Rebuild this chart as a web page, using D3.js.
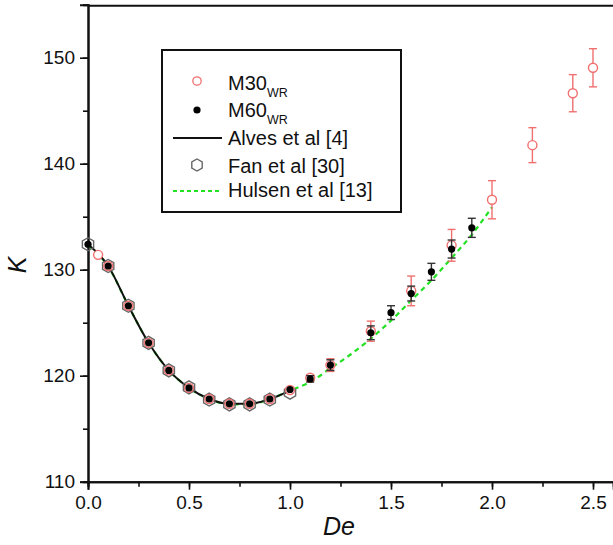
<!DOCTYPE html>
<html><head><meta charset="utf-8">
<script src="https://cdn.jsdelivr.net/npm/d3@7"></script>
<style>body{margin:0;background:#fff}svg{display:block}text{font-family:"Liberation Sans",Arial,sans-serif;fill:#111}</style>
</head><body>
<svg id="c" width="613" height="545"></svg>
<script>
// ---- data ----
const deLine = [0,0.1,0.2,0.3,0.4,0.5,0.6,0.7,0.8,0.9,1.0];
const kAlves = [132.4,130.35,126.6,123.1,120.5,118.85,117.8,117.35,117.35,117.8,118.6];
const kFan = [132.4,130.35,126.6,123.1,120.5,118.9,117.75,117.3,117.3,117.75,118.4];
const deHulsen = [0,0.1,0.2,0.3,0.4,0.5,0.6,0.7,0.8,0.9,1.0,1.1,1.2,1.3,1.4,1.5,1.6,1.7,1.8,1.9,2.0];
const kHulsen = [132.3,130.3,126.6,123.1,120.5,118.85,117.8,117.3,117.3,117.8,118.6,119.4,120.7,122.0,123.5,125.2,127.1,129.0,131.1,133.3,135.9];
const deM30 = [0.05,0.1,0.2,0.3,0.4,0.5,0.6,0.7,0.8,0.9,1.0,1.1,1.2,1.4,1.6,1.8,2.0,2.2,2.4,2.5];
const kM30 = [131.4,130.35,126.6,123.1,120.5,118.85,117.8,117.35,117.35,117.8,118.65,119.8,121.0,124.2,128.0,132.3,136.6,141.75,146.65,149.05];
const errM30 = [0,0,0,0,0,0,0,0,0,0,0,0.3,0.6,0.95,1.4,1.5,1.8,1.65,1.75,1.8];
const deM60 = [0,0.1,0.2,0.3,0.4,0.5,0.6,0.7,0.8,0.9,1.0,1.1,1.2,1.4,1.5,1.6,1.7,1.8,1.9];
const kM60 = [132.4,130.35,126.6,123.1,120.5,118.85,117.8,117.35,117.35,117.8,118.7,119.7,121.0,124.05,125.95,127.75,129.8,131.95,133.95];
const errM60 = [0,0,0,0,0,0,0,0,0,0,0,0.3,0.5,0.65,0.65,0.7,0.8,0.85,0.9];
const xTicks = [0,0.5,1.0,1.5,2.0,2.5];
const yTicks = [110,120,130,140,150];
const legendLabels = ["M30","M60","Alves et al [4]","Fan et al [30]","Hulsen et al [13]"];

const RED = "#f07070", GREEN = "#22e022", HEXC = "#666";
const svg = d3.select("#c");
const x = d3.scaleLinear().domain([0,2.6]).range([88,613.2]);
const y = d3.scaleLinear().domain([110,155]).range([481.7,4.7]);

// axes
const xAxis = svg.append("g").attr("transform","translate(0,481.7)");
xAxis.call(d3.axisBottom(x).tickValues(d3.range(0,2.6,0.25)).tickSize(5).tickFormat(""));
const xMaj = svg.append("g").attr("transform","translate(0,481.7)")
  .call(d3.axisBottom(x).tickValues(xTicks).tickSize(8).tickPadding(6).tickFormat(d3.format(".1f")));
const yAxis = svg.append("g").attr("transform","translate(88,0)");
yAxis.call(d3.axisLeft(y).tickValues(d3.range(110,155.1,5)).tickSize(5).tickFormat(""));
const yMaj = svg.append("g").attr("transform","translate(88,0)")
  .call(d3.axisLeft(y).tickValues(yTicks).tickSize(8).tickPadding(5).tickFormat(d3.format("d")));
[xAxis,xMaj,yAxis,yMaj].forEach(g=>{
  g.select(".domain").attr("stroke","#111").attr("stroke-width",2);
  g.selectAll(".tick line").attr("stroke","#111").attr("stroke-width",1.6);
  g.selectAll(".tick text").attr("font-size",19).attr("fill","#111")
   .style("font-family","'Liberation Sans',Arial,sans-serif");
});
// top frame
svg.append("line").attr("x1",x(0)).attr("x2",x(2.6)).attr("y1",y(155)+1).attr("y2",y(155)+1)
  .attr("stroke","#111").attr("stroke-width",2);

// axis labels
svg.append("text").attr("transform","translate(26,265) rotate(-90)").attr("text-anchor","middle")
  .attr("font-size",25).attr("font-style","italic").text("K");
svg.append("text").attr("x",339).attr("y",535).attr("text-anchor","middle")
  .attr("font-size",25).attr("font-style","italic").text("De");

const plot = svg.append("g");
// Hulsen dashed line
plot.append("path").datum(deHulsen.map((d,i)=>[d,kHulsen[i]]))
  .attr("fill","none").attr("stroke",GREEN).attr("stroke-width",2.2).attr("stroke-dasharray","5,4")
  .attr("d",d3.line().x(d=>x(d[0])).y(d=>y(d[1])).curve(d3.curveMonotoneX));
// Alves line
plot.append("path").datum(deLine.map((d,i)=>[d,kAlves[i]]))
  .attr("fill","none").attr("stroke","#111").attr("stroke-width",2)
  .attr("d",d3.line().x(d=>x(d[0])).y(d=>y(d[1])).curve(d3.curveMonotoneX));

function hexPath(cx,cy,r){
  const pts = d3.range(6).map(i=>{const a=Math.PI/180*(60*i-90);return [cx+r*Math.cos(a),cy+r*Math.sin(a)];});
  return "M"+pts.map(p=>p.join(",")).join("L")+"Z";
}
// Fan hexagons
plot.selectAll(".hex").data(deLine.map((d,i)=>[d,kFan[i]])).join("path")
  .attr("d",d=>hexPath(x(d[0]),y(d[1]),6.5)).attr("fill","none").attr("stroke",HEXC).attr("stroke-width",1.4);

function errBars(de,k,err,color){
  const data = de.map((d,i)=>[d,k[i],err[i]]).filter(d=>d[2]>0);
  const g = plot.append("g").attr("stroke",color).attr("stroke-width",1.4);
  g.selectAll(".v").data(data).join("line")
    .attr("x1",d=>x(d[0])).attr("x2",d=>x(d[0])).attr("y1",d=>y(d[1]-d[2])).attr("y2",d=>y(d[1]+d[2]));
  g.selectAll(".t").data(data).join("line")
    .attr("x1",d=>x(d[0])-4).attr("x2",d=>x(d[0])+4).attr("y1",d=>y(d[1]+d[2])).attr("y2",d=>y(d[1]+d[2]));
  g.selectAll(".b").data(data).join("line")
    .attr("x1",d=>x(d[0])-4).attr("x2",d=>x(d[0])+4).attr("y1",d=>y(d[1]-d[2])).attr("y2",d=>y(d[1]-d[2]));
}
// M30
errBars(deM30,kM30,errM30,RED);
plot.selectAll(".m30").data(deM30.map((d,i)=>[d,kM30[i]])).join("circle")
  .attr("cx",d=>x(d[0])).attr("cy",d=>y(d[1])).attr("r",4.5)
  .attr("fill","#fff").attr("stroke",RED).attr("stroke-width",1.4);
// M60
errBars(deM60,kM60,errM60,"#333");
plot.selectAll(".m60").data(deM60.map((d,i)=>[d,kM60[i]])).join("circle")
  .attr("cx",d=>x(d[0])).attr("cy",d=>y(d[1])).attr("r",3.6).attr("fill","#000");

// legend
const lg = svg.append("g");
lg.append("rect").attr("x",162).attr("y",50).attr("width",239).attr("height",162)
  .attr("fill","#fff").attr("stroke","#111").attr("stroke-width",2);
const rowY = [81,110,138,165,191];
const baseY = [90,117,145,173,197];
const tx = 228;
lg.append("circle").attr("cx",197).attr("cy",rowY[0]).attr("r",4.2).attr("fill","#fff").attr("stroke",RED).attr("stroke-width",1.3);
lg.append("circle").attr("cx",197).attr("cy",rowY[1]).attr("r",3.6).attr("fill","#000");
lg.append("line").attr("x1",173).attr("x2",222).attr("y1",rowY[2]).attr("y2",rowY[2]).attr("stroke","#111").attr("stroke-width",2);
lg.append("path").attr("d",hexPath(197,rowY[3],6)).attr("fill","none").attr("stroke",HEXC).attr("stroke-width",1.4);
lg.append("line").attr("x1",173).attr("x2",222).attr("y1",rowY[4]).attr("y2",rowY[4]).attr("stroke",GREEN).attr("stroke-width",2.2).attr("stroke-dasharray","4,3");
legendLabels.forEach((t,i)=>{
  const tt = lg.append("text").attr("x",tx).attr("y",baseY[i]).attr("font-size",20);
  tt.append("tspan").text(t);
  if(i<2) tt.append("tspan").attr("font-size",12.5).attr("dy",7).text("WR");
});
</script>
</body></html>
